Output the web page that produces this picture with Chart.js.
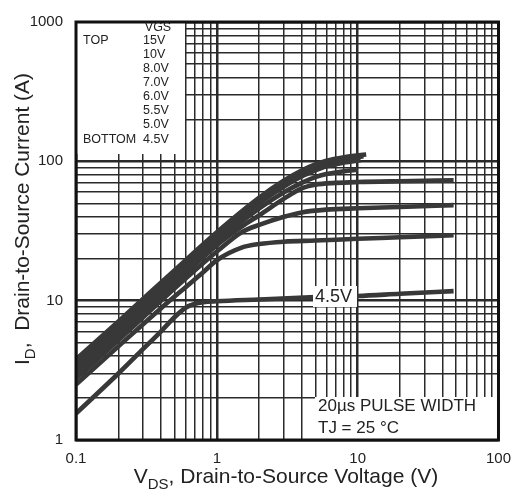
<!DOCTYPE html>
<html><head><meta charset="utf-8">
<script src="https://cdn.jsdelivr.net/npm/chart.js@4/dist/chart.umd.min.js"></script>
<style>html,body{margin:0;padding:0;background:#fff}canvas{display:block}</style>
</head><body>
<canvas id="c" width="521" height="499"></canvas>
<script>
// ---- data ----
const vgsLabels = ['15V', '10V', '8.0V', '7.0V', '6.0V', '5.5V', '5.0V', '4.5V'];
const v15  = [0.1, 0.2, 0.5, 1, 2, 3, 4, 5, 6, 8, 11.5];
const i15  = [3.8, 7.1, 16.5, 31, 55, 73, 86, 95, 101, 107, 112];
const v10  = [0.1, 0.2, 0.5, 1, 2, 3, 4, 5, 6, 8, 11];
const i10  = [3.6, 6.8, 15.8, 29.5, 53, 70, 83, 92, 98, 104, 109];
const v8   = [0.1, 0.2, 0.5, 1, 2, 3, 4, 5, 6, 8, 10.5];
const i8   = [3.4, 6.4, 15, 28, 50, 66, 78, 86, 92, 98, 102];
const v7   = [0.1, 0.2, 0.5, 1, 2, 3, 4, 5, 6, 8, 10];
const i7   = [3.2, 6.0, 14, 26.5, 46, 60, 70, 77, 81, 85, 87];
const v6   = [0.1, 0.2, 0.5, 1, 1.5, 2, 3, 4, 5, 7, 10, 20, 48];
const i6   = [3.0, 5.6, 13.2, 25, 34, 41, 54, 64, 68, 70, 71, 72, 73];
const v55  = [0.1, 0.2, 0.5, 1, 1.5, 2, 3, 4, 6, 10, 20, 48];
const i55  = [2.75, 5.2, 12.2, 22.5, 31, 35, 40, 43, 45, 46, 47, 48.5];
const v5   = [0.1, 0.2, 0.4, 0.6, 0.8, 1, 1.5, 2, 3, 5, 10, 20, 48];
const i5   = [2.5, 4.7, 8.8, 12.5, 16, 19.5, 24, 25.5, 26.5, 27, 27.8, 28.5, 29.5];
const v45  = [0.1, 0.2, 0.3, 0.4, 0.5, 0.6, 0.7, 0.8, 1, 2, 5, 10, 20, 48];
const i45  = [1.55, 3.0, 4.5, 6.0, 7.6, 8.9, 9.5, 9.75, 9.9, 10.2, 10.6, 10.8, 11.2, 11.7];

const xTickLabels = [0.1, 1, 10, 100];
const yTickLabels = [1, 10, 100, 1000];
const gridMultiples = [1, 2, 3, 4, 5, 6, 7, 8, 9];

const seriesV = [v15, v10, v8, v7, v6, v55, v5, v45];
const seriesI = [i15, i10, i8, i7, i6, i55, i5, i45];

function gridValues(decades, last) {
  const out = [];
  decades.forEach(d => gridMultiples.forEach(m => out.push(+(m * d).toPrecision(6))));
  out.push(last);
  return out;
}
const isLabel = (list, v) => list.some(t => Math.abs(t - v) < 1e-9 * Math.max(1, t));
const isDecade = v => Math.abs(Math.log10(v) - Math.round(Math.log10(v))) < 1e-9;

const datasets = seriesV.map((vs, k) => ({
  label: vgsLabels[k],
  data: vs.map((v, j) => ({ x: v, y: seriesI[k][j] })),
  showLine: true,
  borderColor: '#383838',
  backgroundColor: '#383838',
  borderWidth: 4.6,
  pointRadius: 0,
  cubicInterpolationMode: 'monotone',
  fill: false
}));

const FONT = '"Liberation Sans", Arial, Helvetica, sans-serif';

const overlay = {
  id: 'overlay',
  beforeDatasetsDraw(chart) {
    const c = chart.ctx;
    c.save();
    c.fillStyle = '#fff';
    c.fillRect(77, 17, 108, 137);   // legend block
    c.fillRect(315, 397, 186, 42);  // pulse text block
    c.restore();
  },
  afterDatasetsDraw(chart) {
    const c = chart.ctx;
    const a = chart.chartArea;
    c.save();
    // 4.5V label
    c.fillStyle = '#fff';
    c.fillRect(313, 286, 44, 21);
    c.fillStyle = '#222';
    c.font = '18px ' + FONT;
    c.textBaseline = 'middle';
    c.textAlign = 'left';
    c.fillText('4.5V', 315, 297);
    // border
    c.strokeStyle = '#111';
    c.lineWidth = 3;
    c.strokeRect(a.left, a.top, a.right - a.left, a.bottom - a.top);
    // legend texts
    c.fillStyle = '#222';
    c.font = '12.5px ' + FONT;
    c.textAlign = 'center';
    c.fillText('VGS', 158, 28);
    c.textAlign = 'left';
    c.fillText('TOP', 83, 41);
    c.fillText('BOTTOM', 83, 140);
    const ys = [41, 55, 69, 83, 97, 111, 125, 140];
    vgsLabels.forEach((t, k) => c.fillText(t, 143, ys[k]));
    // pulse text
    c.font = '17px ' + FONT;
    c.fillText('20\u00b5s PULSE WIDTH', 318, 406);
    c.fillText('TJ = 25 \u00b0C', 318, 428);
    c.restore();
  },
  afterDraw(chart) {
    const c = chart.ctx;
    c.save();
    c.fillStyle = '#222';
    c.textBaseline = 'alphabetic';
    c.textAlign = 'left';
    // x title
    const big = '21px ' + FONT, small = '15px ' + FONT;
    const xParts = [['V', big, 0], ['DS', small, 6], [', Drain-to-Source Voltage (V)', big, 0]];
    let w = 0;
    xParts.forEach(p => { c.font = p[1]; w += c.measureText(p[0]).width; });
    let x = 286 - w / 2;
    xParts.forEach(p => { c.font = p[1]; c.fillText(p[0], x, 483 + p[2]); x += c.measureText(p[0]).width; });
    // y title
    const yParts = [['I', big, 0], ['D', small, 6], [',  Drain-to-Source Current (A)', big, 0]];
    w = 0;
    yParts.forEach(p => { c.font = p[1]; w += c.measureText(p[0]).width; });
    c.translate(29, 219);
    c.rotate(-Math.PI / 2);
    x = -w / 2;
    yParts.forEach(p => { c.font = p[1]; c.fillText(p[0], x, p[2]); x += c.measureText(p[0]).width; });
    c.restore();
  }
};

new Chart(document.getElementById('c'), {
  type: 'scatter',
  data: { datasets },
  options: {
    responsive: false,
    animation: false,
    devicePixelRatio: 1,
    layout: { padding: { left: 0, top: 16, right: 19, bottom: 0 } },
    plugins: { legend: { display: false }, tooltip: { enabled: false } },
    scales: {
      x: {
        type: 'logarithmic', min: 0.1, max: 100,
        afterBuildTicks: s => { s.ticks = gridValues([0.1, 1, 10], 100).map(v => ({ value: v, major: isDecade(v) })); },
        afterFit: s => { s.height = 59; },
        grid: {
          drawTicks: false,
          color: '#2a2a2a',
          lineWidth: ctx => (ctx.tick && isDecade(ctx.tick.value)) ? 2.5 : 1.5
        },
        border: { display: false },
        ticks: {
          autoSkip: false, maxRotation: 0, padding: 10,
          color: '#222', font: { family: FONT, size: 15 },
          callback: v => isLabel(xTickLabels, v) ? String(v) : ''
        }
      },
      y: {
        type: 'logarithmic', min: 1, max: 1000,
        afterBuildTicks: s => { s.ticks = gridValues([1, 10, 100], 1000).map(v => ({ value: v, major: isDecade(v) })); },
        afterFit: s => { s.width = 76; },
        grid: {
          drawTicks: false,
          color: '#2a2a2a',
          lineWidth: ctx => (ctx.tick && isDecade(ctx.tick.value)) ? 2.5 : 1.5
        },
        border: { display: false },
        ticks: {
          autoSkip: false, padding: 13,
          color: '#222', font: { family: FONT, size: 15 },
          callback: v => isLabel(yTickLabels, v) ? String(v) : ''
        }
      }
    }
  },
  plugins: [overlay]
});
</script>
</body></html>
